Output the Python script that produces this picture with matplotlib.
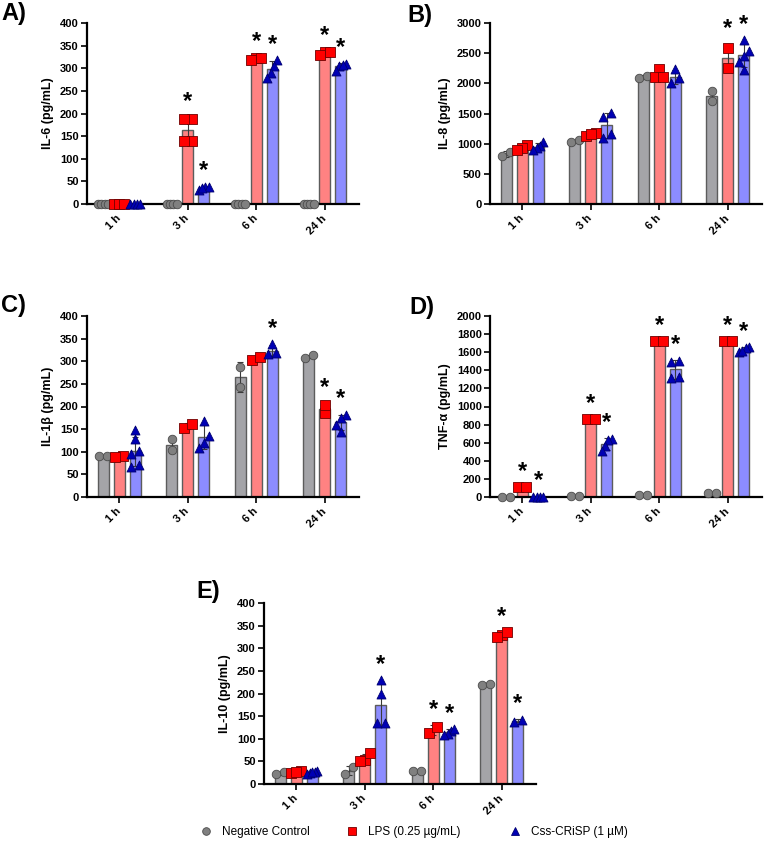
import numpy as np
import matplotlib
matplotlib.use('Agg')
import matplotlib.pyplot as plt
from matplotlib.lines import Line2D

plt.rcParams['font.family'] = ['Liberation Sans', 'DejaVu Sans']
plt.rcParams['font.weight'] = 'bold'
plt.rcParams['axes.labelweight'] = 'bold'

# ---------------- data ----------------
times = ['1 h', '3 h', '6 h', '24 h']
groups = ['Negative Control', 'LPS (0.25 µg/mL)', 'Css-CRiSP (1 µM)']

# IL-6
il6_ctrl = [[0, 0, 0, 0], [0, 0, 0, 0], [0, 0, 0, 0], [0, 0, 0, 0]]
il6_lps = [[0, 0, 0], [188, 188, 140, 140], [323, 323, 318], [337, 337, 330]]
il6_css = [[0, 0, 0, 0], [38, 32, 38, 36], [318, 305, 290, 278], [310, 305, 293, 308]]
il6_sig = [(1, 1), (2, 1), (3, 1), (1, 2), (2, 2), (3, 2)]

# IL-8
il8_ctrl = [[870, 800], [1035, 1060], [2090, 2125], [1877, 1700]]
il8_lps = [[980, 920, 900], [1130, 1170, 1165], [2240, 2100, 2100], [2583, 2250]]
il8_css = [[1030, 960, 920, 900], [1510, 1450, 1160, 1100], [2238, 2083, 2000],
           [2722, 2543, 2460, 2360, 2227]]
il8_sig = [(3, 1), (3, 2)]

# IL-1beta
il1b_ctrl = [[90, 90], [128, 103], [288, 242], [308, 313]]
il1b_lps = [[90, 88], [153, 162], [303, 310], [186, 203]]
il1b_css = [[147, 129, 101, 96, 70, 66], [169, 134, 119, 108], [338, 315, 318],
            [182, 175, 160, 143]]
il1b_sig = [(2, 2), (3, 1), (3, 2)]

# TNF-alpha
tnf_ctrl = [[2, 2], [15, 15], [22, 22], [40, 42]]
tnf_lps = [[110, 110], [865, 865], [1720, 1720], [1720, 1720]]
tnf_css = [[5, 5, 5, 5], [640, 632, 562, 504], [1507, 1493, 1324, 1320],
           [1660, 1645, 1600, 1610]]
tnf_sig = [(0, 1), (1, 1), (2, 1), (3, 1), (0, 2), (1, 2), (2, 2), (3, 2)]

# IL-10
il10_ctrl = [[26, 21], [22, 37], [28, 28], [218, 222]]
il10_lps = [[29, 24, 26], [54, 68, 50], [112, 127], [330, 325, 335]]
il10_css = [[28, 25, 27, 22, 26], [230, 200, 135, 135], [117, 110, 108, 122], [137, 142]]
il10_sig = [(1, 2), (2, 1), (2, 2), (3, 1), (3, 2)]

# ---------------- style ----------------
W, H = 764, 841
fig = plt.figure(figsize=(W / 100, H / 100), dpi=100)

bar_colors = ['#a4a4a8', '#ff8282', '#8c8cff']
bar_edge = '#5c5c5c'
pt_face = ['#808080', '#ff0000', '#0000b4']
pt_edge = ['#4a4a4a', '#700000', '#000070']
pt_marker = ['o', 's', '^']
pt_size = [38, 46, 42]
offsets = [-0.235, 0.0, 0.235]
barw = 0.16
XL = (-0.47, 3.5)
AXW, AXH = 272, 181
GSP = AXW / (XL[1] - XL[0])


def swarm(vals, ymax, diam=8.5, maxspan=10.0):
    vals = np.asarray(vals, float)
    order = np.argsort(vals)
    ypx = vals / ymax * AXH
    offs = np.zeros(len(vals))
    clusters = []
    cur = [order[0]]
    for i in order[1:]:
        if ypx[i] - ypx[cur[-1]] < diam * 0.9:
            cur.append(i)
        else:
            clusters.append(cur)
            cur = [i]
    clusters.append(cur)
    for cl in clusters:
        k = len(cl)
        if k > 1:
            step = min(diam * 0.95, maxspan / (k - 1))
            for j, i in enumerate(cl):
                offs[i] = (j - (k - 1) / 2) * step / GSP
    return offs


def panel(rect_px, letter, letter_px, data, sig, ymax, ystep, ylabel):
    x0, ytop = rect_px
    ax = fig.add_axes([x0 / W, 1 - (ytop + AXH) / H, AXW / W, AXH / H])
    for g in range(3):
        for t in range(4):
            pts = np.asarray(data[g][t], float)
            m = pts.mean()
            sd = pts.std(ddof=1) if len(pts) > 1 else 0.0
            x = t + offsets[g]
            ax.bar(x, m, width=barw, color=bar_colors[g], edgecolor=bar_edge,
                   linewidth=1.0, zorder=1)
            ax.errorbar(x, m, yerr=sd, color='#3a3a3a', lw=0.8, capsize=2,
                        capthick=0.8, zorder=2)
            xs = x + swarm(pts, ymax)
            ax.scatter(xs, pts, marker=pt_marker[g], s=pt_size[g], c=pt_face[g],
                       edgecolors=pt_edge[g], linewidths=0.6, zorder=3, clip_on=False)
            if (t, g) in sig:
                top = max(pts.max(), m + sd)
                ax.annotate('*', (x, top), xytext=(0, 3), textcoords='offset points',
                            ha='center', va='bottom', fontsize=17, fontweight='bold',
                            annotation_clip=False)
    ax.set_xlim(*XL)
    ax.set_ylim(0, ymax)
    ax.set_yticks(np.arange(0, ymax + 1, ystep))
    ax.set_xticks(range(4))
    ax.set_xticklabels(times, rotation=45, ha='right', va='center',
                       rotation_mode='anchor')
    ax.tick_params(axis='both', width=1.2, length=4, labelsize=8, pad=2)
    ax.tick_params(axis='x', pad=5)
    for s in ['top', 'right']:
        ax.spines[s].set_visible(False)
    for s in ['left', 'bottom']:
        ax.spines[s].set_linewidth(1.6)
    ax.set_ylabel(ylabel, fontsize=9, labelpad=4)
    fig.text(letter_px[0] / W, 1 - letter_px[1] / H, letter, fontsize=17,
             fontweight='bold', ha='left', va='top')
    return ax


panel((87, 23), 'A)', (1, 2), [il6_ctrl, il6_lps, il6_css], il6_sig, 400, 50,
      'IL-6 (pg/mL)')
panel((490, 23), 'B)', (407, 4), [il8_ctrl, il8_lps, il8_css], il8_sig, 3000, 500,
      'IL-8 (pg/mL)')
panel((87, 316), 'C)', (1, 294), [il1b_ctrl, il1b_lps, il1b_css], il1b_sig, 400, 50,
      'IL-1β (pg/mL)')
panel((490, 316), 'D)', (409, 296), [tnf_ctrl, tnf_lps, tnf_css], tnf_sig, 2000, 200,
      'TNF-α (pg/mL)')
panel((264, 603), 'E)', (196, 580), [il10_ctrl, il10_lps, il10_css], il10_sig, 400, 50,
      'IL-10 (pg/mL)')

# legend: one entry per group, placed at the reference marker positions
legend_x_px = [206, 352, 515]
fs = 8.5
em_px = fs * 100 / 72
for g in range(3):
    h = Line2D([], [], ls='none', marker=pt_marker[g], markersize=5.5,
               markerfacecolor=pt_face[g], markeredgecolor=pt_edge[g],
               markeredgewidth=0.6)
    left = legend_x_px[g] - 0.5 * em_px
    fig.legend([h], [groups[g]], loc='center left',
               bbox_to_anchor=(left / W, 1 - 832 / H), frameon=False,
               prop={'size': fs, 'weight': 'normal'}, handlelength=1.0,
               handletextpad=0.85, borderpad=0, borderaxespad=0)

fig.savefig('out.png', dpi=100)
